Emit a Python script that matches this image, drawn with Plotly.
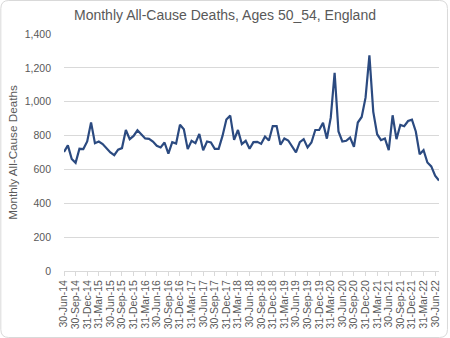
import pandas as pd
import plotly.graph_objects as go

# Month-end dates, Jun 2014 .. Jul 2022
dates = pd.date_range("2014-06-30", "2022-07-31", freq="ME")
date_labels = [f"{d.day}-{d.strftime('%b')}-{d.strftime('%y')}" for d in dates]

# Monthly all-cause deaths, ages 50-54, England
deaths = [
    703, 742, 662, 639, 722, 720, 765, 878, 755, 765, 750, 722,
    700, 684, 717, 726, 833, 779, 798, 831, 804, 783, 781, 765,
    740, 730, 759, 693, 761, 753, 864, 837, 720, 769, 755, 810,
    713, 765, 759, 722, 722, 798, 895, 918, 775, 833, 750, 769,
    722, 761, 763, 751, 794, 771, 856, 856, 746, 783, 771, 736,
    701, 761, 779, 730, 759, 833, 833, 875, 782, 906, 1171, 824,
    765, 769, 788, 734, 877, 910, 1024, 1274, 940, 808, 773, 783,
    714, 920, 779, 863, 855, 886, 894, 824, 690, 714, 641, 618,
    563, 534,
]

y_ticks = [0, 200, 400, 600, 800, 1000, 1200, 1400]
y_tick_text = [f"{v:,}" for v in y_ticks]

title_text = "Monthly All-Cause Deaths, Ages 50_54, England"
y_title = "Monthly All-Cause Deaths"

W, H = 450, 338
ML, MR, MT, MB = 64, 9, 34, 67
pw, ph = W - ML - MR, H - MT - MB

FONT = "Liberation Sans, Arial, sans-serif"
GREY = "#595959"

fig = go.Figure()
fig.add_trace(go.Scatter(
    x=date_labels, y=deaths, mode="lines",
    line=dict(color="#2B4A80", width=2.2),
    hoverinfo="x+y",
))


def px2paper(px, py):
    return (px - ML) / pw, (H - MB - py) / ph


# rounded chart-area border
r = 8
x0, y0, x1, y1 = 0.5, 0.5, W - 0.5, H - 0.5
pts = [
    ("M", [(x0 + r, y0)]),
    ("L", [(x1 - r, y0)]),
    ("Q", [(x1, y0), (x1, y0 + r)]),
    ("L", [(x1, y1 - r)]),
    ("Q", [(x1, y1), (x1 - r, y1)]),
    ("L", [(x0 + r, y1)]),
    ("Q", [(x0, y1), (x0, y1 - r)]),
    ("L", [(x0, y0 + r)]),
    ("Q", [(x0, y0), (x0 + r, y0)]),
]
path = ""
for cmd, ps in pts:
    path += cmd + " " + " ".join(
        "{:.5f},{:.5f}".format(*px2paper(a, b)) for a, b in ps) + " "
path += "Z"

fig.add_shape(type="path", path=path, xref="paper", yref="paper",
              line=dict(color="#D9D9D9", width=1), layer="below")

fig.update_layout(
    width=W, height=H,
    margin=dict(l=ML, r=MR, t=MT, b=MB, pad=0),
    paper_bgcolor="white", plot_bgcolor="white",
    showlegend=False,
    font=dict(family=FONT, color=GREY, size=10.5),
    title=dict(text=title_text, x=0.5, xanchor="center",
               y=1 - 15.5 / H, yanchor="middle",
               font=dict(family=FONT, size=14, color=GREY)),
)

fig.update_xaxes(
    type="category",
    range=[0, len(deaths) - 1],
    tickmode="array",
    tickvals=date_labels[::3],
    ticktext=date_labels[::3],
    tickangle=-90,
    tickfont=dict(size=10.5, color=GREY),
    showgrid=False,
    showline=True, linecolor="#D9D9D9", linewidth=1,
    ticks="outside", ticklen=4, tickcolor="#D9D9D9",
    zeroline=False,
)

fig.update_yaxes(
    range=[0, 1400],
    tickmode="array",
    tickvals=y_ticks,
    ticktext=y_tick_text,
    tickfont=dict(size=10.5, color=GREY),
    showgrid=True, gridcolor="#D9D9D9", gridwidth=1,
    zeroline=False, showline=False,
    ticks="", ticklabelstandoff=12,
    title=dict(text=y_title, font=dict(size=11.7, color=GREY), standoff=4),
)

fig.write_html("out.html")
